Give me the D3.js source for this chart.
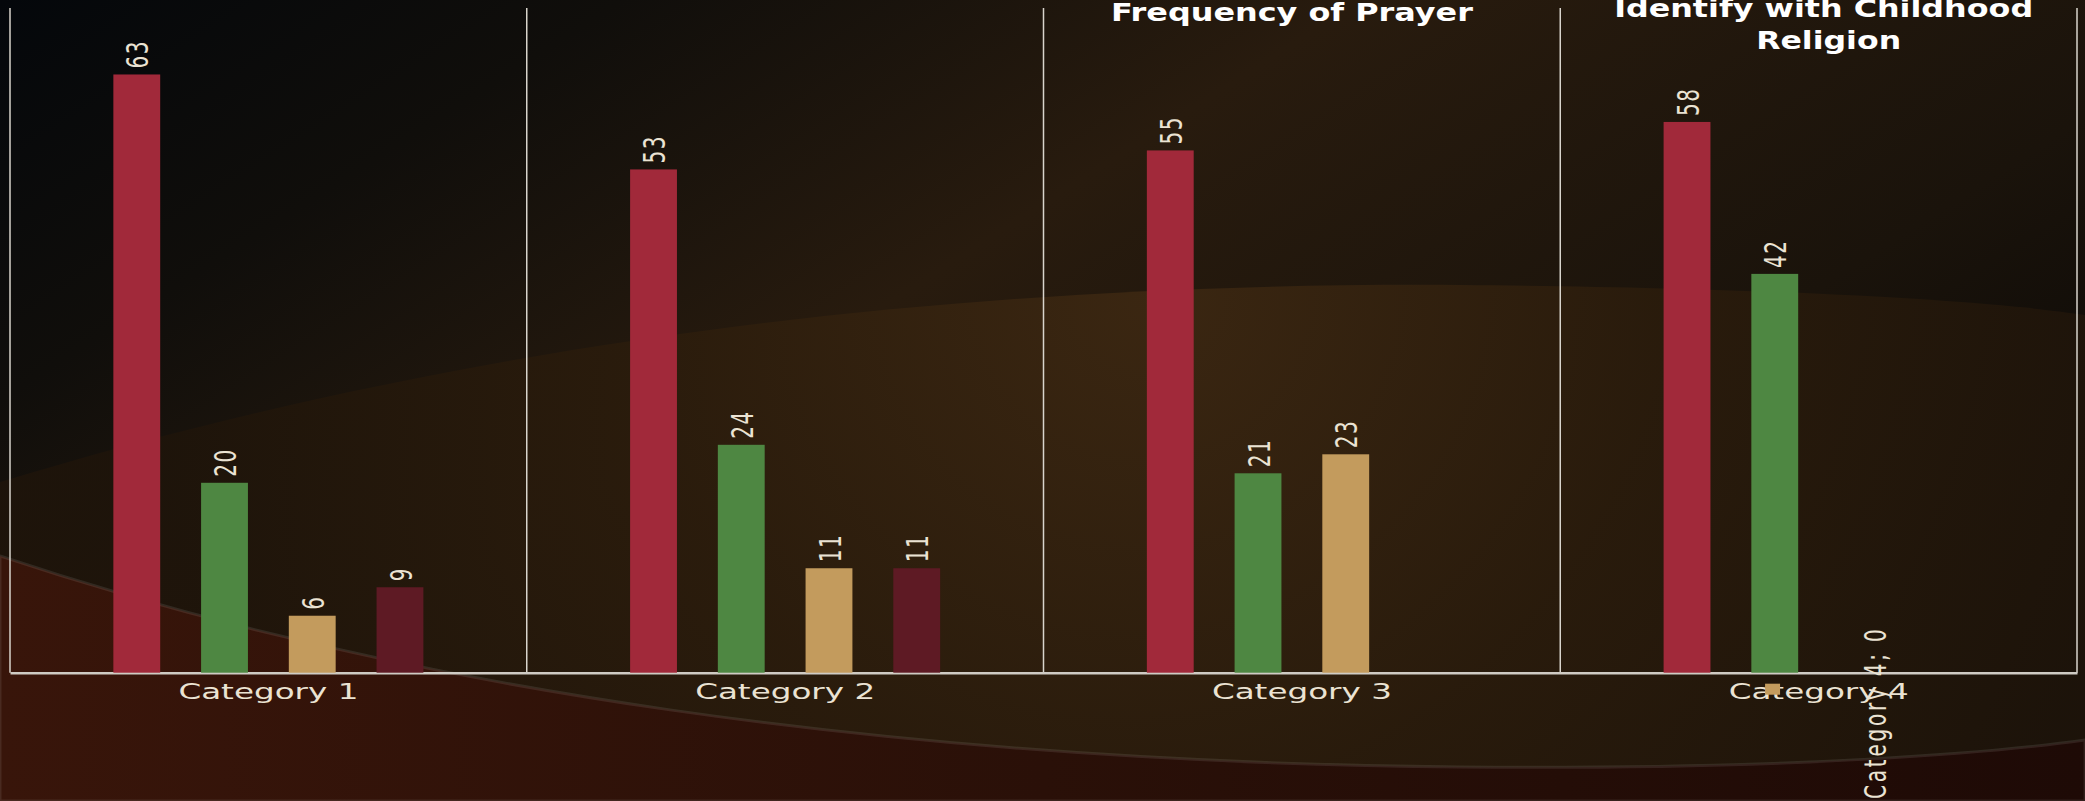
<!DOCTYPE html>
<html>
<head>
<meta charset="utf-8">
<script src="https://cdn.jsdelivr.net/npm/d3@7"></script>
<style>
  html, body { margin: 0; padding: 0; background: #0b0a08; overflow: hidden; }
  svg { display: block; }
</style>
</head>
<body>
<svg id="viz" width="2085" height="801"></svg>
<script>
/* clustered columns, four panels, dark "slide" backdrop */

const categories  = ["Category 1", "Category 2", "Category 3", "Category 4"];
const seriesNames = ["Series 1", "Series 2", "Series 3", "Series 4"];
const series1 = [63, 53, 55, 58];
const series2 = [20, 24, 21, 42];
const series3 = [6, 11, 23, 0];
const series4 = [9, 11, null, null];
const panelTitles = [[], [], ["Frequency of Prayer"], ["Identify with Childhood", "Religion"]];

const W = 2085, H = 801;
const colors = ["#a1293a", "#4e8742", "#c39b5d", "#5e1a24"];
const textCol = "#ebe3d3";
const stretch = 1.47;            // source chart was stretched sideways

const svg  = d3.select("#viz");
const defs = svg.append("defs");

/* -- Backdrop ---------------------------------------------------------- */
const bg = defs.append("linearGradient").attr("id", "bg")
  .attr("x1", 0).attr("y1", 0).attr("x2", 1).attr("y2", 0.6);
bg.append("stop").attr("offset", 0).attr("stop-color", "#04070b");
bg.append("stop").attr("offset", 0.22).attr("stop-color", "#100e0b");
bg.append("stop").attr("offset", 0.48).attr("stop-color", "#281b0e");
bg.append("stop").attr("offset", 0.8).attr("stop-color", "#1a130b");
bg.append("stop").attr("offset", 1).attr("stop-color", "#0d0a07");

const swoosh = defs.append("radialGradient").attr("id", "swoosh")
  .attr("gradientUnits", "userSpaceOnUse")
  .attr("cx", 1150).attr("cy", 300).attr("r", 1000);
swoosh.append("stop").attr("offset", 0).attr("stop-color", "#3d2812");
swoosh.append("stop").attr("offset", 0.5).attr("stop-color", "#2b1c0c");
swoosh.append("stop").attr("offset", 1).attr("stop-color", "#1e140a");

const lower = defs.append("linearGradient").attr("id", "lower")
  .attr("x1", 0).attr("y1", 0).attr("x2", 1).attr("y2", 0);
lower.append("stop").attr("offset", 0).attr("stop-color", "#38150a");
lower.append("stop").attr("offset", 0.5).attr("stop-color", "#2a1008");
lower.append("stop").attr("offset", 1).attr("stop-color", "#1e0a06");

svg.append("rect").attr("width", W).attr("height", H).attr("fill", "url(#bg)");
svg.append("path")
  .attr("d", "M0,482 C500,330 1000,282 1460,285 C1800,288 2000,302 2085,315 L2085,801 L0,801 Z")
  .attr("fill", "url(#swoosh)").attr("opacity", 0.9);
svg.append("path")
  .attr("d", "M0,556 C400,690 900,762 1460,767 C1800,770 2000,752 2085,740 L2085,801 L0,801 Z")
  .attr("fill", "url(#lower)")
  .attr("stroke", "rgba(255,255,255,0.09)").attr("stroke-width", 3);

/* -- Scales ------------------------------------------------------------ */
const x0 = d3.scaleBand().domain(categories).range([10, 2077]).padding(0);
const bw = x0.bandwidth();
const x1 = d3.scaleBand().domain(seriesNames)
  .range([0.2 * bw, 0.8 * bw]).paddingInner(0.466);
const y  = d3.scaleLinear().domain([0, 70]).range([672.7, 8]);

const allSeries = [series1, series2, series3, series4];
const cells = [];
categories.forEach((c, i) => {
  seriesNames.forEach((s, j) => {
    const v = allSeries[j][i];
    if (v !== null) cells.push({ cat: c, ser: s, j, v });
  });
});

/* -- Panel dividers ---------------------------------------------------- */
const edges = categories.map(c => x0(c)).concat([x0.range()[1]]);
svg.append("g").selectAll("line")
  .data(edges).enter().append("line")
    .attr("x1", d => d).attr("x2", d => d)
    .attr("y1", y(70)).attr("y2", y(0))
    .attr("stroke", "#d8d4cc").attr("stroke-width", 1.5);

/* -- Bars -------------------------------------------------------------- */
const g = svg.append("g");
g.selectAll("rect.bar")
  .data(cells.filter(d => d.v > 0))
  .enter().append("rect")
    .attr("class", "bar")
    .attr("x", d => x0(d.cat) + x1(d.ser))
    .attr("width", x1.bandwidth())
    .attr("y", d => y(d.v))
    .attr("height", d => y(0) - y(d.v))
    .attr("fill", d => colors[d.j]);

/* -- Value labels (rotated) ------------------------------------------- */
g.selectAll("text.val")
  .data(cells.filter(d => d.v > 0))
  .enter().append("text")
    .attr("class", "val")
    .attr("transform", d => {
      const cx = x0(d.cat) + x1(d.ser) + x1.bandwidth() / 2 + 1;
      return `translate(${cx},${y(d.v) - 6}) scale(${stretch},1) rotate(-90)`;
    })
    .attr("dy", "0.36em")
    .attr("font-family", "DejaVu Sans")
    .attr("font-size", 20)
    .attr("letter-spacing", 1.5)
    .attr("fill", textCol)
    .text(d => d.v);

/* zero-height bar: its label falls out as "Category; value" with a key */
const zeros = cells.filter(d => d.v === 0);
zeros.forEach(d => {
  const bx = x0(d.cat) + x1(d.ser);
  g.append("rect")
    .attr("x", bx - 74).attr("y", y(0) + 11)
    .attr("width", 15).attr("height", 11)
    .attr("fill", colors[d.j]);
  g.append("text")
    .attr("transform", `translate(${bx + 36},${H - 2}) scale(${stretch},1) rotate(-90)`)
    .attr("dy", "0.36em")
    .attr("font-family", "DejaVu Sans")
    .attr("font-size", 20)
    .attr("letter-spacing", 2.8)
    .attr("fill", textCol)
    .text(`${d.cat}; ${d.v}`);
});

/* -- Category axis ----------------------------------------------------- */
const axis = svg.append("g")
  .attr("transform", `translate(0,${y(0)})`)
  .call(d3.axisBottom(x0).tickSize(0).tickPadding(11));
axis.select(".domain").attr("stroke", "#cfcbc4").attr("stroke-width", 2.5);
axis.selectAll(".tick text")
  .attr("font-family", "DejaVu Sans")
  .attr("font-size", 21)
  .attr("fill", textCol)
  .attr("textLength", 180)
  .attr("lengthAdjust", "spacingAndGlyphs");
// the zero-value key sits on top of the last tick label
g.raise();

/* -- Panel titles ------------------------------------------------------ */
const titleWidths = { "Frequency of Prayer": 362, "Identify with Childhood": 419, "Religion": 145 };
const titleBase = [[], [], [21], [17, 49]];
const titleShift = [0, 0, -10, 5];
panelTitles.forEach((lines, i) => {
  lines.forEach((t, k) => {
    svg.append("text")
      .attr("x", x0(categories[i]) + bw / 2 + titleShift[i] + (k === 1 ? 5 : 0))
      .attr("y", titleBase[i][k])
      .attr("text-anchor", "middle")
      .attr("font-family", "DejaVu Sans")
      .attr("font-weight", "bold")
      .attr("font-size", 25)
      .attr("fill", "#ffffff")
      .attr("textLength", titleWidths[t])
      .attr("lengthAdjust", "spacingAndGlyphs")
      .text(t);
  });
});
</script>
</body>
</html>
